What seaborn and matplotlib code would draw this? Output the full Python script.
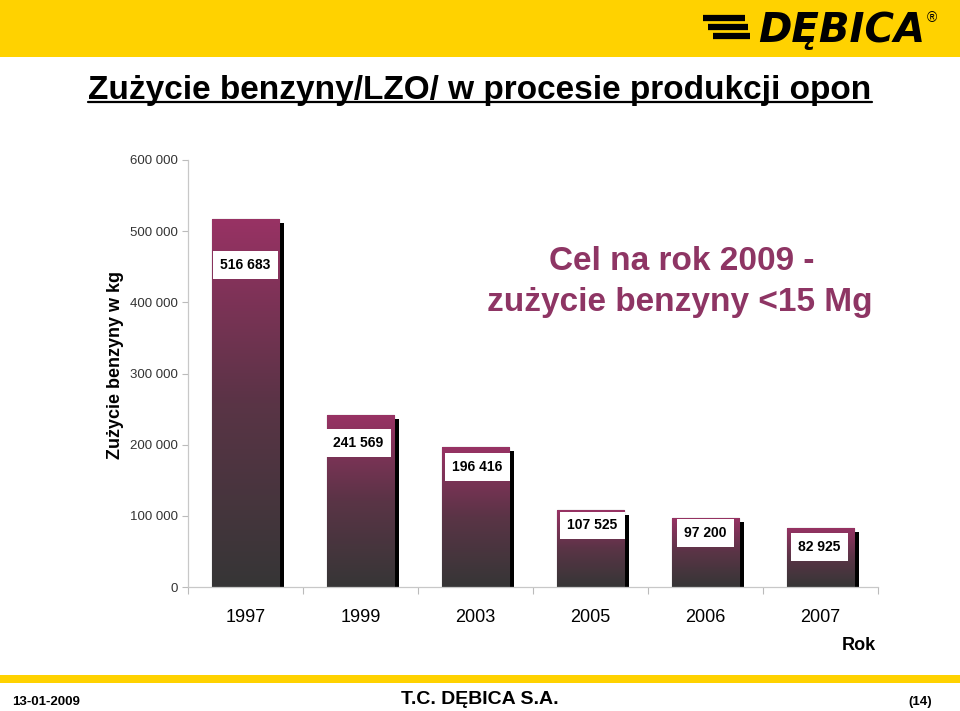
import numpy as np
import pandas as pd
import matplotlib
matplotlib.use("Agg")
import matplotlib.pyplot as plt
import matplotlib.patheffects as pe
from matplotlib.colors import LinearSegmentedColormap
from matplotlib.lines import Line2D
from matplotlib.patches import Rectangle
import seaborn as sns

# ---- data ----
years = ["1997", "1999", "2003", "2005", "2006", "2007"]
values = [516683, 241569, 196416, 107525, 97200, 82925]
y_ticks = [0, 100000, 200000, 300000, 400000, 500000, 600000]

def fmt(v):
    return f"{v:,}".replace(",", " ")

sns.set_theme(style="white")
plt.rcParams["font.family"] = ["Liberation Sans", "DejaVu Sans"]

W, H = 960, 711
fig = plt.figure(figsize=(9.6, 7.11), dpi=100)

def fx(px):
    return px / W

def fy(py):
    return 1 - py / H

# top yellow band
fig.patches.append(Rectangle((0, fy(57)), 1, 57 / H, transform=fig.transFigure,
                             facecolor="#FFD200", edgecolor="none", zorder=0))
# bottom yellow line
fig.patches.append(Rectangle((0, fy(683)), 1, 8 / H, transform=fig.transFigure,
                             facecolor="#FFD200", edgecolor="none", zorder=0))

# logo
for i, (x0, x1) in enumerate([(703, 745), (708, 748), (713, 750)]):
    yy = 18 + i * 9
    fig.add_artist(Line2D([fx(x0), fx(x1)], [fy(yy), fy(yy)], color="black", lw=4.5,
                          solid_capstyle="butt", transform=fig.transFigure))
fig.text(fx(842), fy(31), "DĘBICA", ha="center", va="center", fontsize=29,
         fontweight="heavy", fontstyle="italic", color="black",
         family=["DejaVu Sans"])
fig.text(fx(932), fy(18), "®", ha="center", va="center", fontsize=10, color="black")

# title (underlined)
title = fig.text(fx(480), fy(90), "Zużycie benzyny/LZO/ w procesie produkcji opon",
                 ha="center", va="center", fontsize=24, fontweight="bold", color="black")

# axes
ax = fig.add_axes([fx(188), fy(587), fx(878) - fx(188), fy(160) - fy(587)])
df = pd.DataFrame({"year": years, "value": values})
sns.barplot(data=df, x="year", y="value", ax=ax, width=0.59, color="#983264",
            edgecolor="#202020", linewidth=0.8, saturation=1)

ax.set_xlim(-0.5, len(years) - 0.5)
ax.set_ylim(0, 600000)
ax.set_yticks(y_ticks)
ax.set_yticklabels([fmt(v) for v in y_ticks], fontsize=9.5, color="#333333")
ax.tick_params(axis="y", length=4, width=0.8, color="#BBBBBB", pad=3, left=True)
ax.tick_params(axis="x", which="major", length=0, labelsize=13, pad=16,
               labelcolor="black")
ax.set_xticks(np.arange(-0.5, len(years)), minor=True)
ax.tick_params(axis="x", which="minor", length=5, width=0.8, color="#BBBBBB",
               bottom=True)
for s in ["top", "right"]:
    ax.spines[s].set_visible(False)
for s in ["left", "bottom"]:
    ax.spines[s].set_color("#C8C8C8")
    ax.spines[s].set_linewidth(0.9)
ax.set_xlabel("")
ax.set_ylabel("")
ax.set_facecolor("none")

# gradient fill + shadow
cmap = LinearSegmentedColormap.from_list("g", ["#363636", "#5a3446", "#983264"])
grad = np.linspace(0, 1, 256).reshape(-1, 1)
for p in ax.patches:
    x, y0 = p.get_x(), p.get_y()
    w, h = p.get_width(), p.get_height()
    p.set_path_effects([pe.SimplePatchShadow(offset=(3, -3), shadow_rgbFace="black",
                                             alpha=1.0), pe.Normal()])
    im = ax.imshow(grad, extent=[x, x + w, y0, y0 + h], origin="lower", cmap=cmap,
                   aspect="auto", zorder=p.get_zorder() + 0.1)
    im.set_clip_path(p)

# value labels
offsets = [46, 28, 20, 15, 15, 19]
xshift = [0, -2, 2, 2, 0, -1]
for i, (v, off) in enumerate(zip(values, offsets)):
    ax.annotate(fmt(v), xy=(i, v), xytext=(xshift[i] * 0.72, -off * 0.72),
                textcoords="offset points", ha="center", va="center",
                fontsize=10, fontweight="bold", color="black", zorder=10,
                bbox=dict(boxstyle="square,pad=0.5", facecolor="white",
                          edgecolor="none"))

# axis label texts
fig.text(fx(115), fy(365), "Zużycie benzyny w kg", rotation=90, ha="center",
         va="center", fontsize=13, fontweight="bold", color="black")
fig.text(fx(859), fy(645), "Rok", ha="center", va="center", fontsize=13,
         fontweight="bold", color="black")

# target annotation
fig.text(fx(682), fy(262), "Cel na rok 2009 -", ha="center", va="center",
         fontsize=24, fontweight="bold", color="#8E3564")
fig.text(fx(680), fy(303), "zużycie benzyny <15 Mg", ha="center", va="center",
         fontsize=24, fontweight="bold", color="#8E3564")

# footer
fig.text(fx(12), fy(702), "13-01-2009", ha="left", va="center", fontsize=9.5,
         fontweight="bold", color="black")
fig.text(fx(480), fy(700), "T.C. DĘBICA S.A.", ha="center", va="center",
         fontsize=14, fontweight="bold", color="black")
fig.text(fx(920), fy(702), "(14)", ha="center", va="center", fontsize=9.5,
         fontweight="bold", color="black")

# underline for title
fig.canvas.draw()
bb = title.get_window_extent(renderer=fig.canvas.get_renderer())
yline = bb.y0 / H + 1 / H
fig.add_artist(Line2D([bb.x0 / W, bb.x1 / W], [yline + 2.5 / H, yline + 2.5 / H],
                      color="black", lw=1.6, transform=fig.transFigure))

fig.savefig("out.png", dpi=100)
